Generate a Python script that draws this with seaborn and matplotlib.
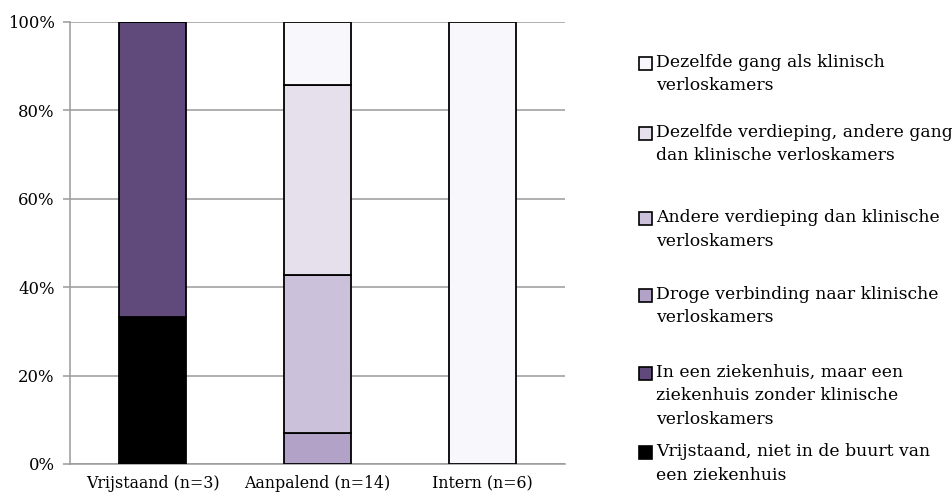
import seaborn as sns
import matplotlib.pyplot as plt
import pandas as pd
from matplotlib.ticker import PercentFormatter

categories = ["Vrijstaand (n=3)", "Aanpalend (n=14)", "Intern (n=6)"]

# percentages per category, listed from bottom of stack to top
series_names = [
    "Vrijstaand, niet in de buurt van\neen ziekenhuis",
    "In een ziekenhuis, maar een\nziekenhuis zonder klinische\nverloskamers",
    "Droge verbinding naar klinische\nverloskamers",
    "Andere verdieping dan klinische\nverloskamers",
    "Dezelfde verdieping, andere gang\ndan klinische verloskamers",
    "Dezelfde gang als klinisch\nverloskamers",
]
vrijstaand = [33.3, 0, 0]
ziekenhuis_zonder = [66.7, 0, 0]
droge_verbinding = [0, 7.1, 0]
andere_verdieping = [0, 35.7, 0]
zelfde_verdieping = [0, 42.9, 0]
zelfde_gang = [0, 14.3, 100]

series_values = [vrijstaand, ziekenhuis_zonder, droge_verbinding,
                 andere_verdieping, zelfde_verdieping, zelfde_gang]
colors = ["#000000", "#604A7B", "#B3A2C7", "#CCC1DA", "#E5E0EC", "#F8F8FC"]

sns.set_style("white")
plt.rcParams["font.family"] = ["DejaVu Serif"]
plt.rcParams["font.size"] = 12
plt.rcParams["text.color"] = "black"
plt.rcParams["xtick.labelcolor"] = "black"
plt.rcParams["ytick.labelcolor"] = "black"

fig = plt.figure(figsize=(9.53, 4.97), dpi=100)
ax = fig.add_axes([0.0735, 0.0664, 0.5195, 0.8894])

bottom = [0.0, 0.0, 0.0]
for name, vals, col in zip(series_names, series_values, colors):
    df = pd.DataFrame({"cat": categories, "val": vals})
    sns.barplot(data=df, x="cat", y="val", color=col, width=0.41,
                bottom=bottom, edgecolor="black", linewidth=1.3,
                saturation=1, ax=ax, zorder=3)
    bottom = [b + v for b, v in zip(bottom, vals)]

ax.set_xlim(-0.5, 2.5)
ax.set_ylim(0, 100)
ax.set_yticks([0, 20, 40, 60, 80, 100])
ax.yaxis.set_major_formatter(PercentFormatter(decimals=0))
ax.set_xlabel("")
ax.set_ylabel("")
ax.grid(axis="y", color="#9A9A9A", linewidth=1.1, zorder=0)
ax.set_axisbelow(True)
for s in ["top", "right"]:
    ax.spines[s].set_visible(False)
for s in ["left", "bottom"]:
    ax.spines[s].set_color("#9A9A9A")
    ax.spines[s].set_linewidth(1.1)

ax.tick_params(axis="x", which="major", length=0, pad=8, labelsize=11.4)
ax.set_xticks([-0.5, 0.5, 1.5, 2.5], minor=True)
ax.tick_params(axis="x", which="minor", length=5, color="#9A9A9A", width=1.1)
ax.tick_params(axis="y", length=5, color="#9A9A9A", width=1.1, pad=6,
               left=True, labelsize=11.8)

# legend drawn entry by entry (top entry first), like the source
legend_y = [63, 133, 218, 295, 373, 452]
H = 497.0
W = 953.0
for name, col, ypx in zip(series_names[::-1], colors[::-1], legend_y):
    yf = 1 - ypx / H
    fig.patches.append(plt.Rectangle((639 / W, yf - 6.5 / H), 13 / W, 13 / H,
                                     transform=fig.transFigure, facecolor=col,
                                     edgecolor="black", linewidth=1.2))
    fig.text(656 / W, yf + 9 / H, name, va="top", ha="left", linespacing=1.5,
             fontsize=12.4, transform=fig.transFigure)

fig.savefig("out.png", dpi=100)
